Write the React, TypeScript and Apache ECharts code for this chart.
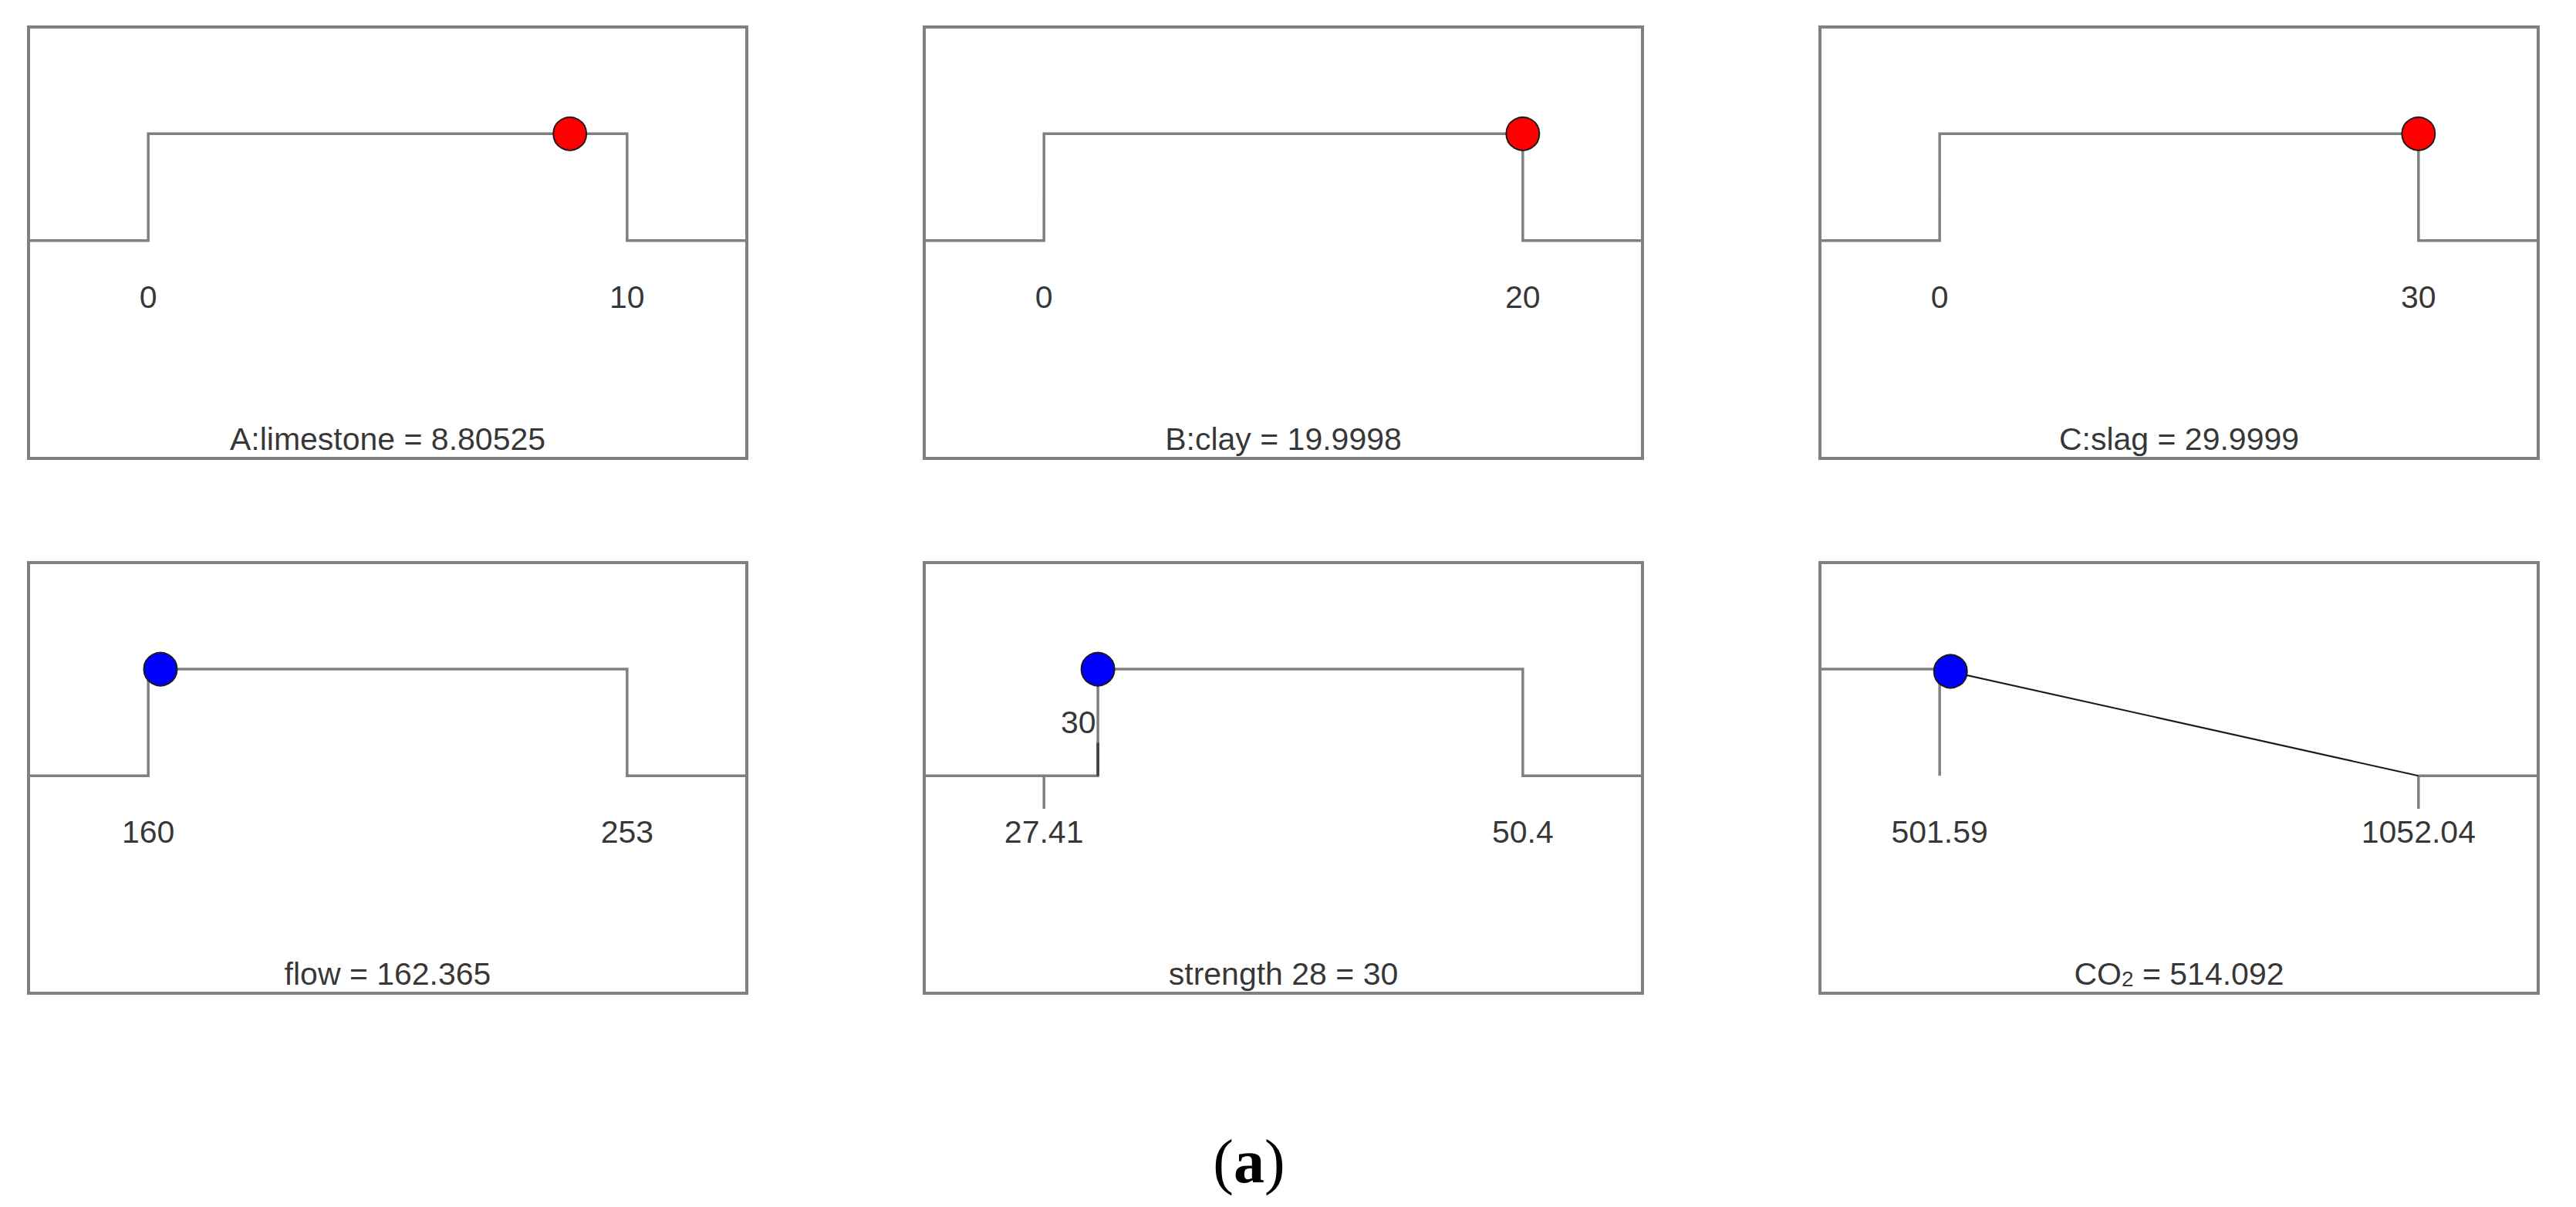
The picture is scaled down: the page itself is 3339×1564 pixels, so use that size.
import React, { useEffect, useRef } from "react";
import * as echarts from "echarts";

// ---------- data ----------
const panelTitles = [
  "A:limestone = 8.80525",
  "B:clay = 19.9998",
  "C:slag = 29.9999",
  "flow = 162.365",
  "strength 28 = 30",
  "CO2 = 514.092",
];
const axisLow = [0, 0, 0, 160, 27.41, 501.59];
const axisHigh = [10, 20, 30, 253, 50.4, 1052.04];
const tickLabels = [
  ["0", "10"],
  ["0", "20"],
  ["0", "30"],
  ["160", "253"],
  ["27.41", "50.4"],
  ["501.59", "1052.04"],
];
const optimumValues = [8.80525, 19.9998, 29.9999, 162.365, 30, 514.092];
const optimumDesirability = [1, 1, 1, 1, 1, 0.98];
const markerColors = ["#ff0000", "#ff0000", "#ff0000", "#0000ff", "#0000ff", "#0000ff"];

// desirability curves (x, desirability 0..1)
const curveLimestone = [[0, 0], [0, 1], [10, 1], [10, 0]];
const curveClay = [[0, 0], [0, 1], [20, 1], [20, 0]];
const curveSlag = [[0, 0], [0, 1], [30, 1], [30, 0]];
const curveFlow = [[160, 0], [160, 1], [253, 1], [253, 0]];
const strengthTarget = 30;
const curveStrength = [[30, 0], [30, 1], [50.4, 1], [50.4, 0]];
const curveCO2Flat = [[501.59, 1]];
const curveCO2Drop = [[501.59, 1], [501.59, 0]];
const curveCO2Slope = [[501.59, 1], [1052.04, 0]];
const curveCO2Low = [[1052.04, 0]];
const caption = "a";

// ---------- layout ----------
const gridLefts = [37, 1198, 2359];
const gridTops = [35, 729];
const gridHeights = [559, 558];
const gridWidth = 931;
const yMin = -2.04;
const yMax = 2.0;
const labelY = -0.53;
const titleY = -1.83;
const tickLen = 0.31;

const GRAY = "#808080";
const TEXT = "#000000";
const FONT = "'Liberation Sans', Arial, sans-serif";

export default function App() {
  const ref = useRef<HTMLDivElement>(null);

  useEffect(() => {
    if (!ref.current) return;
    const chart = echarts.init(ref.current, null, { renderer: "svg" });

    const grids: any[] = [];
    const xAxes: any[] = [];
    const yAxes: any[] = [];
    const series: any[] = [];

    const lineS = (i: number, pts: number[][], color: string, width: number, z = 2) => ({
      type: "line",
      xAxisIndex: i,
      yAxisIndex: i,
      data: pts,
      symbol: "none",
      silent: true,
      z,
      lineStyle: { color, width, cap: "butt", join: "miter" },
    });

    const textS = (i: number, items: any[]) => ({
      type: "scatter",
      xAxisIndex: i,
      yAxisIndex: i,
      symbolSize: 1,
      silent: true,
      z: 5,
      itemStyle: { color: "rgba(0,0,0,0)" },
      data: items,
    });

    for (let i = 0; i < 6; i++) {
      const row = Math.floor(i / 3);
      const col = i % 3;
      const lo = axisLow[i];
      const hi = axisHigh[i];
      const span = hi - lo;
      const xmin = lo - 0.25 * span;
      const xmax = hi + 0.25 * span;
      grids.push({
        left: gridLefts[col],
        top: gridTops[row],
        width: gridWidth,
        height: gridHeights[row],
        show: true,
        borderColor: GRAY,
        borderWidth: 4,
        backgroundColor: "#ffffff",
        containLabel: false,
      });
      xAxes.push({ type: "value", gridIndex: i, min: xmin, max: xmax, show: false });
      yAxes.push({ type: "value", gridIndex: i, min: yMin, max: yMax, show: false });

      // curves
      if (i < 5) {
        const base = [curveLimestone, curveClay, curveSlag, curveFlow, curveStrength][i];
        const pts = [[xmin, 0], ...base, [xmax, 0]];
        series.push(lineS(i, pts, GRAY, 3.5));
      } else {
        series.push(lineS(i, [[xmin, 1], ...curveCO2Flat], GRAY, 3.5));
        series.push(lineS(i, curveCO2Drop, GRAY, 3.5));
        series.push(lineS(i, curveCO2Slope, "#1a1a1a", 2, 3));
        series.push(lineS(i, [...curveCO2Low, [xmax, 0]], GRAY, 3.5));
        series.push(lineS(i, [[hi, 0], [hi, -tickLen]], GRAY, 3.5));
      }
      if (i === 4) {
        series.push(lineS(i, [[lo, 0], [lo, -tickLen]], GRAY, 3.5));
        series.push(lineS(i, [[strengthTarget, 0], [strengthTarget, tickLen]], "#404040", 3.5, 3));
      }

      // marker
      series.push({
        type: "scatter",
        xAxisIndex: i,
        yAxisIndex: i,
        symbol: "circle",
        symbolSize: 43,
        silent: true,
        z: 6,
        itemStyle: { color: markerColors[i], opacity: 1, borderColor: "#1a1a1a", borderWidth: 2 },
        data: [[optimumValues[i], optimumDesirability[i]]],
      });

      // texts
      const lbl = { show: true, position: "inside", color: TEXT, fontFamily: FONT, fontSize: 41 };
      const items: any[] = [
        { value: [lo, labelY], label: { ...lbl, formatter: tickLabels[i][0] } },
        { value: [hi, labelY], label: { ...lbl, formatter: tickLabels[i][1] } },
      ];
      const titleText = i === 5
        ? "{t|CO}{s|2}{t| = " + panelTitles[i].split("= ")[1] + "}"
        : "{t|" + panelTitles[i] + "}";
      items.push({
        value: [(xmin + xmax) / 2, titleY],
        label: {
          show: true,
          position: "inside",
          formatter: titleText,
          rich: {
            t: { color: TEXT, fontFamily: FONT, fontSize: 41, lineHeight: 50, verticalAlign: "bottom" },
            s: { color: TEXT, fontFamily: FONT, fontSize: 28, lineHeight: 32, verticalAlign: "bottom" },
          },
        },
      });
      if (i === 4) {
        items.push({
          value: [strengthTarget, 0.5],
          label: { ...lbl, position: "left", distance: 2, formatter: String(strengthTarget) },
        });
      }
      series.push(textS(i, items));
    }

    chart.setOption({
      animation: false,
      backgroundColor: "#ffffff",
      grid: grids,
      xAxis: xAxes,
      yAxis: yAxes,
      series,
      graphic: [
        {
          type: "text",
          x: 1619,
          y: 1505,
          silent: true,
          style: {
            text: "{p|(}{b|" + caption + "}{p|)}",
            align: "center",
            verticalAlign: "middle",
            textAlign: "center",
            textVerticalAlign: "middle",
            rich: {
              p: { fontFamily: "'Liberation Serif', 'Times New Roman', serif", fontSize: 80, fill: "#000", color: "#000" },
              b: { fontFamily: "'Liberation Serif', 'Times New Roman', serif", fontSize: 80, fontWeight: "bold", fill: "#000", color: "#000" },
            },
          },
        },
      ],
    });

    return () => chart.dispose();
  }, []);

  return (
    <div
      ref={ref}
      style={{ position: "fixed", left: 0, top: 0, width: 3339, height: 1564, background: "#fff" }}
    />
  );
}
